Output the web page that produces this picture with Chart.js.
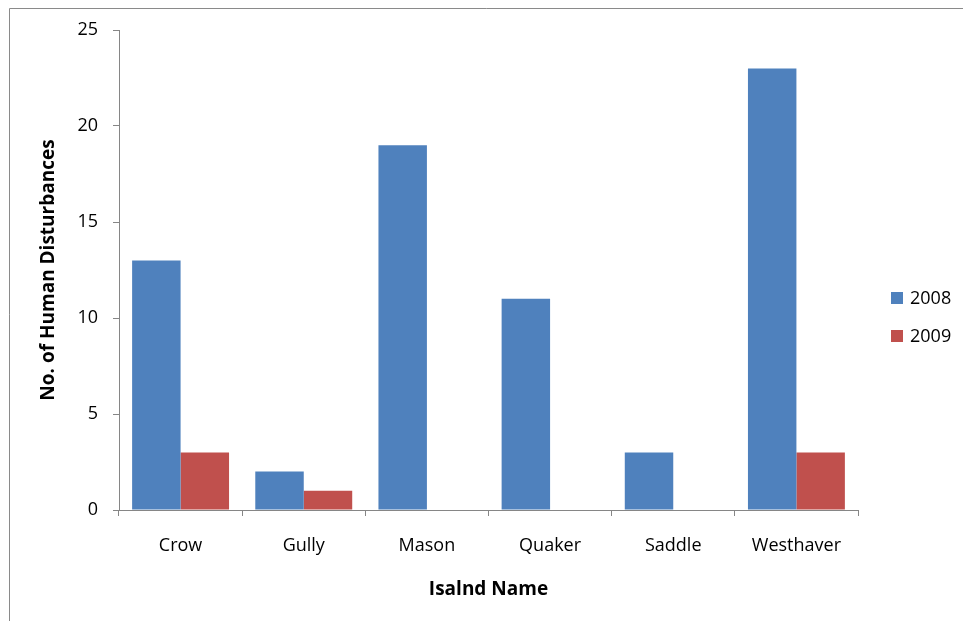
<!DOCTYPE html>
<html>
<head>
<meta charset="utf-8">
<script src="https://cdn.jsdelivr.net/npm/chart.js@4/dist/chart.umd.min.js"></script>
<style>
  html, body { margin: 0; padding: 0; background: #fff; }
  #wrap { width: 963px; height: 621px; position: relative; }
</style>
</head>
<body>
<div id="wrap"><canvas id="c" width="963" height="621"></canvas></div>
<script>
// Human disturbance counts per island, by year
const islands = ['Crow', 'Gully', 'Mason', 'Quaker', 'Saddle', 'Westhaver'];
const years = ['2008', '2009'];
const counts2008 = [13, 2, 19, 11, 3, 23];
const counts2009 = [3, 1, 0, 0, 0, 3];
const yTicks = [0, 5, 10, 15, 20, 25];

const FONT = '"Open Sans", Lato, sans-serif';
const AXIS = '#868686';

// Outer frame of the chart object (left and top edges)
const framePlugin = {
  id: 'frame',
  beforeDraw(chart) {
    const ctx = chart.ctx;
    ctx.save();
    ctx.fillStyle = '#fff';
    ctx.fillRect(0, 0, chart.width, chart.height);
    ctx.strokeStyle = '#8a8a8a';
    ctx.lineWidth = 1;
    ctx.beginPath();
    ctx.moveTo(9.5, chart.height);
    ctx.lineTo(9.5, 8.5);
    ctx.lineTo(chart.width, 8.5);
    ctx.stroke();
    ctx.restore();
  }
};

// Legend at the right, drawn from the dataset labels and colours
const sideLegend = {
  id: 'sideLegend',
  afterDraw(chart) {
    const ctx = chart.ctx;
    ctx.save();
    ctx.font = '18px ' + FONT;
    ctx.textBaseline = 'middle';
    chart.data.datasets.forEach((ds, i) => {
      const cy = 298 + i * 38;
      ctx.fillStyle = ds.backgroundColor;
      ctx.fillRect(891, cy - 6, 12, 12);
      ctx.fillStyle = '#000';
      ctx.fillText(ds.label, 910, cy + 1);
    });
    ctx.restore();
  }
};

new Chart(document.getElementById('c'), {
  type: 'bar',
  data: {
    labels: islands,
    datasets: [
      { label: years[0], data: counts2008, backgroundColor: '#4F81BD' },
      { label: years[1], data: counts2009, backgroundColor: '#C0504D' }
    ]
  },
  options: {
    responsive: false,
    animation: false,
    layout: { padding: { left: 37, top: 30, right: 105, bottom: 20 } },
    datasets: { bar: { categoryPercentage: 0.787, barPercentage: 1.0 } },
    plugins: { legend: { display: false }, tooltip: { enabled: false } },
    scales: {
      x: {
        grid: { offset: true, drawOnChartArea: false, drawTicks: true, tickLength: 6, color: AXIS },
        border: { display: true, color: AXIS, width: 1 },
        ticks: { color: '#000', font: { family: FONT, size: 18 }, padding: 19 },
        title: { display: true, text: 'Isalnd Name', color: '#000',
                 font: { family: FONT, size: 19, weight: 'bold' }, padding: 0 },
        afterFit(scale) { scale.height = 91; }
      },
      y: {
        min: 0, max: 25,
        afterBuildTicks(scale) { scale.ticks = yTicks.map(v => ({ value: v })); },
        grid: { drawOnChartArea: false, drawTicks: true, tickLength: 6, color: AXIS },
        border: { display: true, color: AXIS, width: 1 },
        ticks: { color: '#000', font: { family: FONT, size: 18 }, padding: 15 },
        title: { display: true, text: 'No. of Human Disturbances', color: '#000',
                 font: { family: FONT, size: 19, weight: 'bold' }, padding: 0 },
        afterFit(scale) { scale.width = 82; }
      }
    }
  },
  plugins: [framePlugin, sideLegend]
});
</script>
</body>
</html>
